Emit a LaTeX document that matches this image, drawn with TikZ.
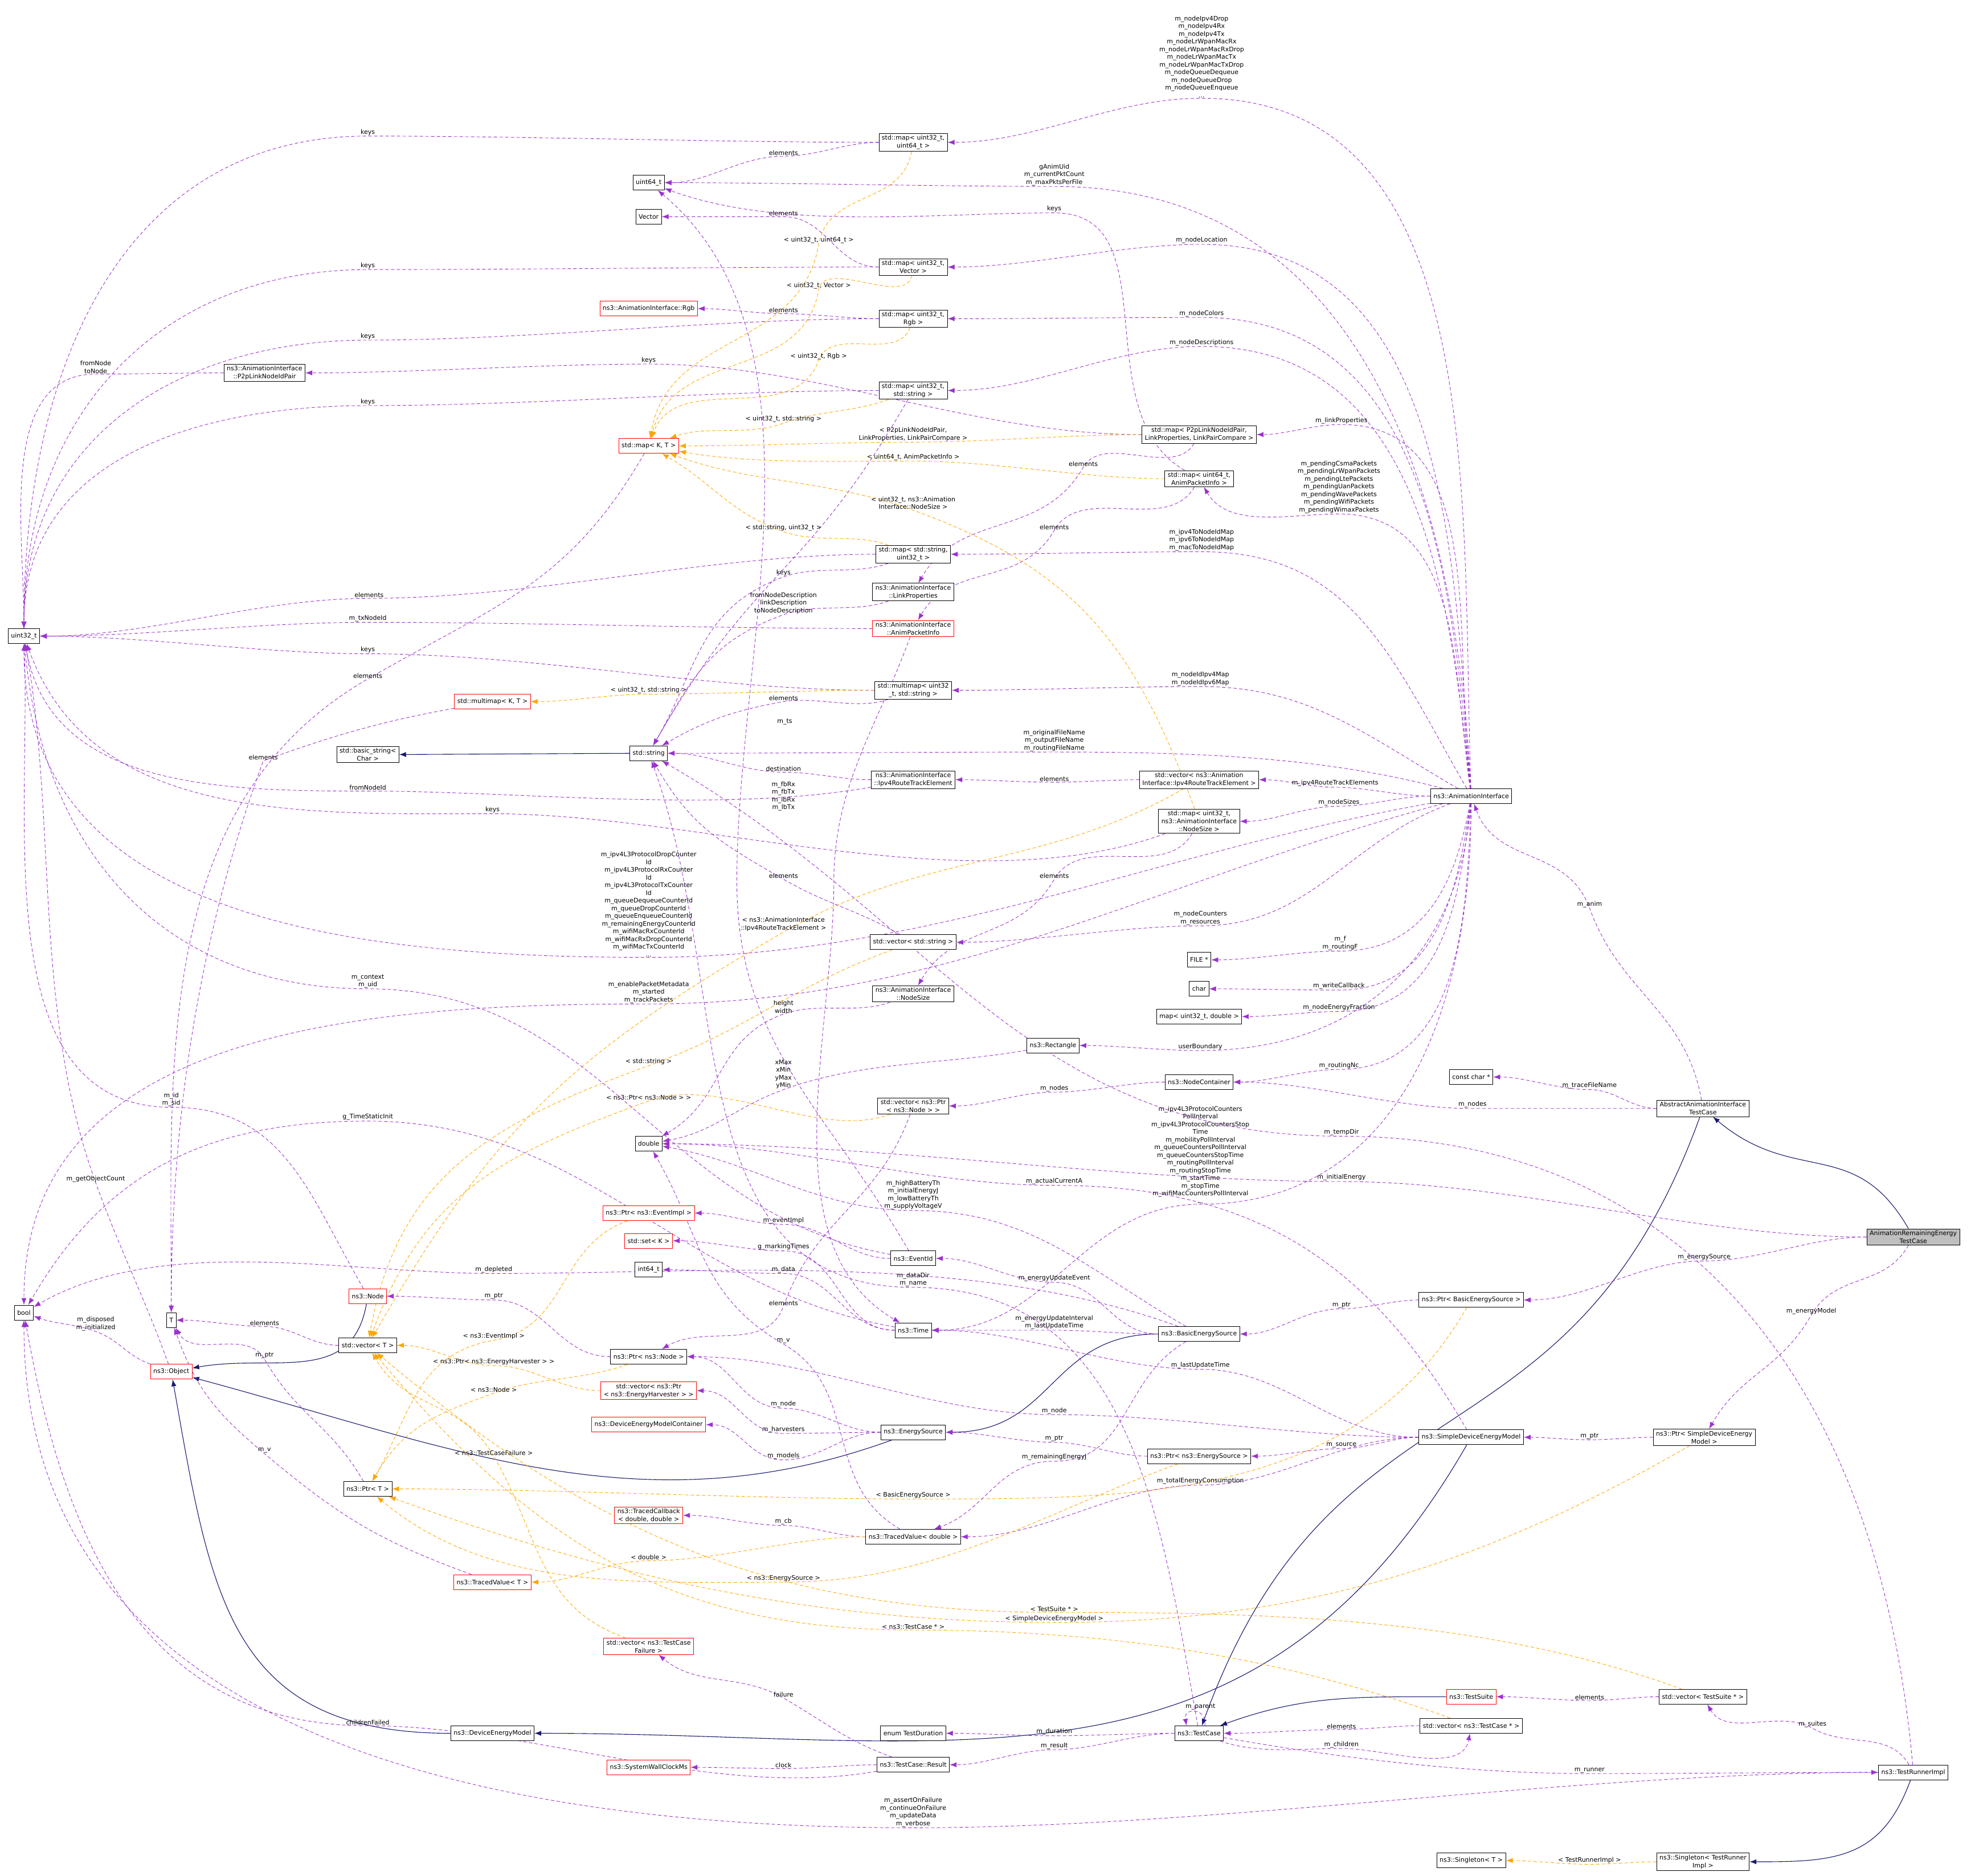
\documentclass[tikz,border=0pt]{standalone}
\usepackage{fontspec}
\setmainfont{DejaVu Sans}
\usetikzlibrary{arrows.meta,backgrounds,calc}
\definecolor{purp}{HTML}{9A32CD}
\definecolor{orng}{HTML}{FFA500}
\definecolor{navyb}{HTML}{191970}
\tikzset{
 box/.style={draw=black, fill=white, font=\fontsize{11}{14}\selectfont, align=center, inner xsep=5pt, inner ysep=3pt, minimum height=26pt, line width=0.9pt},
 rbox/.style={box, draw=red},
 gbox/.style={box, fill=black!25},
 lbl/.style={font=\fontsize{11}{13.5}\selectfont, align=center, inner sep=1pt},
 mem/.style={draw=purp, dash pattern=on 6pt off 4pt, line width=0.9pt, -{Latex[length=12pt,width=9pt]}},
 tpl/.style={mem, draw=orng},
 inh/.style={draw=navyb, line width=1.1pt, -{Latex[length=12pt,width=9pt]}},
}
\newcommand\EG[9][mem]{\draw[#1] let \p1=(#2.#3), \p2=(#4), \p3=(#8.#9), \n1={0.3*(abs(\x2-\x1)+abs(\y2-\y1))}, \n2={0.3*(abs(\x3-\x2)+abs(\y3-\y2))} in (\p1) .. controls +(#3:\n1) and +(#5:\n1) .. (\p2) node[lbl,above]{#6} .. controls +(#7:\n2) and +(#9:\n2) .. (\p3);}
\newcommand\EL[5][mem]{\EG[#1]{#2}{180}{#3}{0}{#4}{180}{#5}{0}}
\newcommand\EC[5][mem]{\draw[#1] let \p1=(#2.#3), \p2=(#4.#5), \n1={0.35*(abs(\x2-\x1)+abs(\y2-\y1))} in (\p1) .. controls +(#3:\n1) and +(#5:\n1) .. (\p2);}
\begin{document}
\begin{tikzpicture}[x=2.211pt,y=-2.211pt]
\useasboundingbox (0,0) rectangle (1568,1489);
% nodes
\node[box] (m1) at (725,113) {std::map< uint32\_t,\\ uint64\_t >};
\node[box] (u64) at (515,145) {uint64\_t};
\node[box] (vec) at (515,172) {Vector};
\node[box] (m2) at (725,212) {std::map< uint32\_t,\\ Vector >};
\node[rbox] (rgb) at (515,245) {ns3::AnimationInterface::Rgb};
\node[box] (m3) at (725,253) {std::map< uint32\_t,\\ Rgb >};
\node[box] (p2p) at (210,296) {ns3::AnimationInterface\\::P2pLinkNodeIdPair};
\node[box] (m4) at (725,310) {std::map< uint32\_t,\\ std::string >};
\node[rbox] (mkt) at (515,354) {std::map< K, T >};
\node[box] (mp2p) at (952,345) {std::map< P2pLinkNodeIdPair,\\ LinkProperties, LinkPairCompare >};
\node[box] (m64a) at (952,380) {std::map< uint64\_t,\\ AnimPacketInfo >};
\node[box] (msu) at (725,440) {std::map< std::string,\\ uint32\_t >};
\node[box] (lp) at (725,470) {ns3::AnimationInterface\\::LinkProperties};
\node[rbox] (api) at (725,499) {ns3::AnimationInterface\\::AnimPacketInfo};
\node[box] (u32) at (19,505) {uint32\_t};
\node[rbox] (mmkt) at (391,557) {std::multimap< K, T >};
\node[box] (mmu) at (725,548) {std::multimap< uint32\\\_t, std::string >};
\node[box] (bstr) at (292,599) {std::basic\_string<\\ Char >};
\node[box] (str) at (515,598) {std::string};
\node[box] (rte) at (725,619) {ns3::AnimationInterface\\::Ipv4RouteTrackElement};
\node[box] (vrte) at (952,619) {std::vector< ns3::Animation\\Interface::Ipv4RouteTrackElement >};
\node[box] (mns) at (952,652) {std::map< uint32\_t,\\ ns3::AnimationInterface\\::NodeSize >};
\node[box] (ai) at (1168,632) {ns3::AnimationInterface};
\node[box] (vstr) at (725,748) {std::vector< std::string >};
\node[box] (file) at (952,762) {FILE *};
\node[box] (chr) at (952,785) {char};
\node[box] (mdbl) at (952,807) {map< uint32\_t, double >};
\node[box] (ns) at (725,789) {ns3::AnimationInterface\\::NodeSize};
\node[box] (rect) at (836,830) {ns3::Rectangle};
\node[box] (nc) at (952,859) {ns3::NodeContainer};
\node[box] (cc) at (1168,855) {const char *};
\node[box] (atc) at (1352,880) {AbstractAnimationInterface\\TestCase};
\node[gbox] (are) at (1519,982) {AnimationRemainingEnergy\\TestCase};
\node[box] (dbl) at (515,908) {double};
\node[box] (vpn) at (725,878) {std::vector< ns3::Ptr\\< ns3::Node > >};
\node[rbox] (pei) at (515,963) {ns3::Ptr< ns3::EventImpl >};
\node[rbox] (setk) at (515,985) {std::set< K >};
\node[box] (i64) at (515,1008) {int64\_t};
\node[box] (eid) at (725,999) {ns3::EventId};
\node[box] (time) at (725,1056) {ns3::Time};
\node[box] (bes) at (952,1059) {ns3::BasicEnergySource};
\node[box] (pbes) at (1168,1032) {ns3::Ptr< BasicEnergySource >};
\node[box] (bool) at (19,1042) {bool};
\node[box] (T) at (136,1048) {T};
\node[rbox] (node) at (292,1029) {ns3::Node};
\node[box] (vT) at (292,1068) {std::vector< T >};
\node[rbox] (obj) at (136,1089) {ns3::Object};
\node[box] (pn) at (515,1077) {ns3::Ptr< ns3::Node >};
\node[rbox] (vh) at (515,1104) {std::vector< ns3::Ptr\\< ns3::EnergyHarvester > >};
\node[rbox] (demc) at (515,1131) {ns3::DeviceEnergyModelContainer};
\node[box] (es) at (725,1137) {ns3::EnergySource};
\node[box] (sdem) at (1168,1141) {ns3::SimpleDeviceEnergyModel};
\node[box] (psdem) at (1353,1141) {ns3::Ptr< SimpleDeviceEnergy\\Model >};
\node[box] (pes) at (952,1156) {ns3::Ptr< ns3::EnergySource >};
\node[box] (pT) at (292,1182) {ns3::Ptr< T >};
\node[rbox] (tcb) at (515,1203) {ns3::TracedCallback\\< double, double >};
\node[box] (tvd) at (725,1220) {ns3::TracedValue< double >};
\node[rbox] (tvT) at (391,1256) {ns3::TracedValue< T >};
\node[rbox] (vtcf) at (515,1307) {std::vector< ns3::TestCase\\Failure >};
\node[rbox] (ts) at (1168,1347) {ns3::TestSuite};
\node[box] (vts) at (1352,1347) {std::vector< TestSuite * >};
\node[box] (vtc) at (1168,1370) {std::vector< ns3::TestCase * >};
\node[box] (dem) at (391,1376) {ns3::DeviceEnergyModel};
\node[box] (etd) at (725,1376) {enum TestDuration};
\node[box] (tc) at (952,1376) {ns3::TestCase};
\node[rbox] (swc) at (515,1403) {ns3::SystemWallClockMs};
\node[box] (res) at (725,1401) {ns3::TestCase::Result};
\node[box] (tri) at (1519,1407) {ns3::TestRunnerImpl};
\node[box] (sT) at (1168,1477) {ns3::Singleton< T >};
\node[box] (sTRI) at (1352,1478) {ns3::Singleton< TestRunner\\Impl >};
\begin{scope}[on background layer]
% AnimationInterface fan
\EG{ai}{92}{954,78}{0}{m\_nodeIpv4Drop\\m\_nodeIpv4Rx\\m\_nodeIpv4Tx\\m\_nodeLrWpanMacRx\\m\_nodeLrWpanMacRxDrop\\m\_nodeLrWpanMacTx\\m\_nodeLrWpanMacTxDrop\\m\_nodeQueueDequeue\\m\_nodeQueueDrop\\m\_nodeQueueEnqueue\\...}{180}{m1}{0}
\EG{ai}{93}{837,148}{0}{gAnimUid\\m\_currentPktCount\\m\_maxPktsPerFile}{180}{u64}{0}
\EG{ai}{94}{954,194}{0}{m\_nodeLocation}{180}{m2}{0}
\EG{ai}{95}{954,252}{0}{m\_nodeColors}{180}{m3}{0}
\EG{ai}{96}{954,275}{0}{m\_nodeDescriptions}{180}{m4}{0}
\EG{ai}{97}{1065,337}{0}{m\_linkProperties}{180}{mp2p}{0}
\EG{ai}{98}{1063,408}{0}{m\_pendingCsmaPackets\\m\_pendingLrWpanPackets\\m\_pendingLtePackets\\m\_pendingUanPackets\\m\_pendingWavePackets\\m\_pendingWifiPackets\\m\_pendingWimaxPackets}{180}{m64a}{-60}
\EG{ai}{120}{954,438}{0}{m\_ipv4ToNodeIdMap\\m\_ipv6ToNodeIdMap\\m\_macToNodeIdMap}{180}{msu}{0}
\EG{ai}{150}{953,545}{0}{m\_nodeIdIpv4Map\\m\_nodeIdIpv6Map}{180}{mmu}{0}
\EG{ai}{165}{837,597}{0}{m\_originalFileName\\m\_outputFileName\\m\_routingFileName}{180}{str}{0}
\EL{ai}{1060,625}{m\_ipv4RouteTrackElements}{vrte}
\EL{ai}{1063,640}{m\_nodeSizes}{mns}
\EG{ai}{190}{515,760}{0}{m\_ipv4L3ProtocolDropCounter\\Id\\m\_ipv4L3ProtocolRxCounter\\Id\\m\_ipv4L3ProtocolTxCounter\\Id\\m\_queueDequeueCounterId\\m\_queueDropCounterId\\m\_queueEnqueueCounterId\\m\_remainingEnergyCounterId\\m\_wifiMacRxCounterId\\m\_wifiMacRxDropCounterId\\m\_wifiMacTxCounterId\\...}{180}{u32}{-90}
\EG{ai}{195}{515,797}{0}{m\_enablePacketMetadata\\m\_started\\m\_trackPackets}{180}{bool}{90}
\EG{ai}{200}{953,735}{0}{m\_nodeCounters\\m\_resources}{180}{vstr}{0}
\EG{ai}{-100}{1064,755}{0}{m\_f\\m\_routingF}{180}{file}{0}
\EG{ai}{-98}{1063,786}{0}{m\_writeCallback}{180}{chr}{0}
\EG{ai}{-96}{1063,803}{0}{m\_nodeEnergyFraction}{180}{mdbl}{0}
\EG{ai}{-94}{953,834}{0}{userBoundary}{180}{rect}{0}
\EG{ai}{-92}{1063,849}{0}{m\_routingNc}{180}{nc}{0}
\EG{ai}{-90}{953,956}{0}{m\_ipv4L3ProtocolCounters\\PollInterval\\m\_ipv4L3ProtocolCountersStop\\Time\\m\_mobilityPollInterval\\m\_queueCountersPollInterval\\m\_queueCountersStopTime\\m\_routingPollInterval\\m\_routingStopTime\\m\_startTime\\m\_stopTime\\m\_wifiMacCountersPollInterval\\...}{180}{time}{0}
% maps
\EL{m1}{622,124}{elements}{u64}
\EG{m1}{180}{292,108}{0}{keys}{180}{u32}{90}
\EG[tpl]{m1}{-100}{650,194}{80}{< uint32\_t, uint64\_t >}{-100}{mkt}{80}
\EL{m2}{622,172}{elements}{vec}
\EG{m2}{180}{292,214}{0}{keys}{180}{u32}{90}
\EG[tpl]{m2}{-100}{650,230}{80}{< uint32\_t, Vector >}{-100}{mkt}{75}
\EL{m3}{622,249}{elements}{rgb}
\EG{m3}{180}{292,270}{0}{keys}{180}{u32}{90}
\EG[tpl]{m3}{-110}{650,286}{70}{< uint32\_t, Rgb >}{-110}{mkt}{70}
\EG{p2p}{180}{76,297}{0}{fromNode\\toNode}{180}{u32}{90}
\EL{mp2p}{515,289}{keys}{p2p}
\EG{mp2p}{-120}{860,371}{60}{elements}{-120}{lp}{60}
\EG[tpl]{mp2p}{180}{725,351}{0}{< P2pLinkNodeIdPair,\\ LinkProperties, LinkPairCompare >}{180}{mkt}{0}
\EG{m4}{180}{292,322}{0}{keys}{180}{u32}{90}
\EG[tpl]{m4}{200}{622,336}{20}{< uint32\_t, std::string >}{200}{mkt}{20}
\EC{m4}{-120}{str}{60}
\EG{m64a}{150}{837,169}{0}{keys}{180}{u64}{-20}
\EG{m64a}{-120}{837,421}{60}{elements}{-120}{api}{60}
\EG[tpl]{m64a}{180}{725,366}{0}{< uint64\_t, AnimPacketInfo >}{180}{mkt}{-10}
\EL{msu}{293,475}{elements}{u32}
\EG{msu}{200}{622,458}{20}{keys}{200}{str}{60}
\EG[tpl]{msu}{160}{622,422}{-20}{< std::string, uint32\_t >}{160}{mkt}{-30}
\EG{lp}{200}{622,488}{20}{fromNodeDescription\\linkDescription\\toNodeDescription}{200}{str}{60}
\EL{api}{292,494}{m\_txNodeId}{u32}
\EG{api}{-110}{662,700}{90}{}{-90}{time}{150}
\node[lbl] (lfb) at (622,632) {m\_fbRx\\m\_fbTx\\m\_lbRx\\m\_lbTx};
\EG{mkt}{-120}{292,539}{30}{elements}{-150}{T}{90}
\EG{mmkt}{190}{209,604}{20}{elements}{-110}{T}{90}
\EL{mmu}{292,519}{keys}{u32}
\EG{mmu}{200}{622,557}{10}{elements}{190}{str}{30}
\EL[tpl]{mmu}{515,551}{< uint32\_t, std::string >}{mmkt}
\draw[inh] (str.west) -- (bstr.east);
\EL{rte}{622,613}{destination}{str}
\EG{rte}{190}{292,628}{0}{fromNodeId}{180}{u32}{-80}
\EL{vrte}{837,621}{elements}{rte}
\EG[tpl]{vrte}{-150}{622,740}{30}{< ns3::AnimationInterface\\::Ipv4RouteTrackElement >}{-150}{vT}{60}
\EG{mns}{200}{391,646}{0}{keys}{180}{u32}{-70}
\EG{mns}{-120}{837,698}{60}{elements}{-120}{ns}{60}
\EG[tpl]{mns}{110}{725,405}{-20}{< uint32\_t, ns3::Animation\\Interface::NodeSize >}{160}{mkt}{-20}
\EG{vstr}{150}{622,698}{-30}{elements}{150}{str}{-60}
\EG[tpl]{vstr}{200}{515,846}{20}{< std::string >}{200}{vT}{80}
\EG{ns}{200}{622,805}{20}{height\\width}{200}{dbl}{30}
\EG{rect}{190}{622,865}{20}{xMax\\xMin\\yMax\\yMin}{200}{dbl}{10}
\EL{nc}{837,867}{m\_nodes}{vpn}
\EG{vpn}{-110}{622,1037}{70}{elements}{-110}{pn}{30}
\EG[tpl]{vpn}{200}{515,874}{20}{< ns3::Ptr< ns3::Node > >}{200}{vT}{70}
% test cases
\EG{atc}{100}{1262,721}{-70}{m\_anim}{110}{ai}{-70}
\EL{atc}{1262,865}{m\_traceFileName}{cc}
\EL{atc}{1169,880}{m\_nodes}{nc}
\EC[inh]{atc}{-110}{tc}{70}
\EC[inh]{are}{120}{atc}{-40}
\EL{are}{1353,1001}{m\_energySource}{pbes}
\EG{are}{-120}{1438,1044}{60}{m\_energyModel}{-120}{psdem}{60}
\EL{are}{1065,938}{m\_initialEnergy}{dbl}
\EG{tri}{95}{1065,902}{0}{m\_tempDir}{180}{str}{-30}
\EL{pbes}{1065,1039}{m\_ptr}{bes}
\EG[tpl]{pbes}{-120}{725,1190}{0}{< BasicEnergySource >}{180}{pT}{0}
\EC[inh]{bes}{180}{es}{0}
\EG{bes}{150}{725,961}{0}{m\_highBatteryTh\\m\_initialEnergyJ\\m\_lowBatteryTh\\m\_supplyVoltageV}{180}{dbl}{-10}
\EL{bes}{837,1018}{m\_energyUpdateEvent}{eid}
\EL{bes}{837,1056}{m\_energyUpdateInterval\\m\_lastUpdateTime}{time}
\EG{bes}{160}{392,1011}{0}{m\_depleted}{180}{bool}{30}
\EG{bes}{-150}{837,1160}{0}{m\_remainingEnergyJ}{180}{tvd}{20}
\EL{eid}{622,972}{m\_eventImpl}{pei}
\EG{eid}{170}{292,785}{0}{m\_context\\m\_uid}{180}{u32}{-85}
\EG{eid}{120}{585,700}{-90}{}{90}{u64}{-40}
\node[lbl] (lts) at (623,573) {m\_ts};
\EG[tpl]{pei}{200}{392,1064}{10}{< ns3::EventImpl >}{190}{pT}{60}
\EL{time}{622,993}{g\_markingTimes}{setk}
\EL{time}{622,1011}{m\_data}{i64}
\EG{time}{170}{292,890}{0}{g\_TimeStaticInit}{180}{bool}{60}
\EG{tc}{100}{725,1022}{0}{m\_dataDir\\m\_name}{180}{str}{-70}
\EG{node}{120}{136,879}{0}{m\_id\\m\_sid}{180}{u32}{-88}
\EC[inh]{node}{-100}{obj}{10}
\EL{vT}{210,1053}{elements}{T}
\EG{obj}{160}{76,1057}{-20}{m\_disposed\\m\_initialized}{160}{bool}{-20}
\EG{obj}{110}{76,939}{-70}{m\_getObjectCount}{110}{u32}{-80}
\EL{pn}{392,1032}{m\_ptr}{node}
\EG[tpl]{pn}{200}{392,1106}{20}{< ns3::Node >}{200}{pT}{60}
\EL[tpl]{vh}{392,1084}{< ns3::Ptr< ns3::EnergyHarvester > >}{vT}
\EL{es}{622,1138}{m\_harvesters}{vh}
\EL{es}{622,1118}{m\_node}{pn}
\EL{es}{622,1159}{m\_models}{demc}
\EC[inh]{es}{200}{obj}{-15}
\EL{sdem}{837,1123}{m\_node}{pn}
\EL{sdem}{1065,1150}{m\_source}{pes}
\EL{sdem}{953,1179}{m\_totalEnergyConsumption}{tvd}
\EL{sdem}{953,1087}{m\_lastUpdateTime}{time}
\EG{sdem}{120}{837,941}{0}{m\_actualCurrentA}{180}{dbl}{0}
\EC[inh]{sdem}{-120}{dem}{0}
\EL{psdem}{1262,1143}{m\_ptr}{sdem}
\EG[tpl]{psdem}{-150}{837,1288}{0}{< SimpleDeviceEnergyModel >}{180}{pT}{-20}
\EL{pes}{837,1145}{m\_ptr}{es}
\EG[tpl]{pes}{-160}{622,1256}{0}{< ns3::EnergySource >}{180}{pT}{-40}
\EG{pT}{120}{210,1079}{-60}{m\_ptr}{120}{T}{-60}
\EL{tvd}{622,1211}{m\_cb}{tcb}
\EG{tvd}{150}{622,1067}{-30}{m\_v}{150}{dbl}{-60}
\EL[tpl]{tvd}{515,1239}{< double >}{tvT}
\EG{tvT}{160}{210,1154}{-40}{m\_v}{140}{T}{-70}
\EC[inh]{dem}{180}{obj}{-80}
\EG[tpl]{vtcf}{160}{392,1156}{-60}{< ns3::TestCaseFailure >}{120}{vT}{-60}
\EC[inh]{ts}{180}{tc}{20}
\EL{vts}{1262,1350}{elements}{ts}
\EG[tpl]{vts}{160}{837,1280}{0}{< TestSuite * >}{180}{vT}{-40}
\EL{vtc}{1065,1373}{elements}{tc}
\EG[tpl]{vtc}{160}{725,1294}{0}{< ns3::TestCase * >}{180}{vT}{-50}
\EG{tc}{-20}{1065,1388}{180}{m\_children}{0}{vtc}{-100}
\draw[mem] ([xshift=10pt]tc.north) .. controls ([xshift=14pt,yshift=32pt]tc.north) and ([xshift=-28pt,yshift=32pt]tc.north) .. ([xshift=-22pt]tc.north);
\node[lbl] (lpar) at (953,1355) {m\_parent};
\EL{tc}{837,1378}{m\_duration}{etd}
\EL{tc}{837,1389}{m\_result}{res}
\EG{tc}{-10}{1262,1408}{180}{m\_runner}{0}{tri}{180}
\EL{res}{622,1404}{clock}{swc}
\EG{res}{160}{622,1348}{-30}{failure}{150}{vtcf}{-40}
\EG{res}{190}{292,1370}{0}{childrenFailed}{180}{bool}{-80}
\EG{tri}{120}{1439,1372}{-30}{m\_suites}{150}{vts}{-60}
\EG{tri}{180}{725,1451}{0}{m\_assertOnFailure\\m\_continueOnFailure\\m\_updateData\\m\_verbose}{180}{bool}{-90}
\EC[inh]{tri}{-110}{sTRI}{0}
\EL[tpl]{sTRI}{1262,1480}{< TestRunnerImpl >}{sT}
\end{scope}
\end{tikzpicture}
\end{document}
